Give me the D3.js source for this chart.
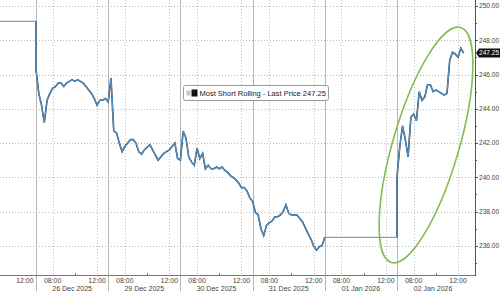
<!DOCTYPE html>
<html>
<head>
<meta charset="utf-8">
<script src="https://cdn.jsdelivr.net/npm/d3@7"></script>
<style>
  html, body { margin: 0; padding: 0; background: #fff; }
  svg { display: block; font-family: "Liberation Sans", Arial, sans-serif; }
</style>
</head>
<body>
<div id="chart"></div>
<script>
// session 06:30-13:00 (6.5h); values sampled every 15 min, open to close
const dayLabels = ["24 Dec 2025", "26 Dec 2025", "29 Dec 2025", "30 Dec 2025", "31 Dec 2025", "01 Jan 2026", "02 Jan 2026"];
const tickHours = [8, 12];
const yTicks = [236, 238, 240, 242, 244, 246, 248, 250];

const dec24Close = 249.1;
const dec26 = [246.3, 244.9, 244.2, 243.2, 244.5, 244.9, 245.2, 245.3, 245.5, 245.5, 245.3, 245.5, 245.6, 245.7, 245.6, 245.7, 245.6, 245.5, 245.3, 245.1, 244.9, 244.6, 244.2, 244.5, 244.5, 244.6, 244.4];
const dec29 = [244.4, 245.8, 242.7, 242.6, 242.0, 241.5, 241.8, 242.0, 242.2, 242.2, 242.0, 241.5, 241.35, 241.6, 241.75, 241.9, 241.6, 241.3, 241.0, 241.2, 241.4, 241.5, 241.6, 241.8, 242.0, 241.1, 241.0];
const dec30 = [241.0, 242.7, 242.3, 241.2, 240.9, 240.7, 241.7, 241.1, 241.4, 240.5, 240.7, 240.5, 240.5, 240.6, 240.5, 240.6, 240.4, 240.3, 240.1, 240.0, 239.85, 239.67, 239.4, 239.4, 239.2, 238.8, 238.6];
const dec31 = [238.6, 237.95, 237.8, 237.0, 236.6, 237.2, 237.35, 237.45, 237.7, 237.7, 237.8, 238.0, 238.4, 237.9, 237.8, 237.8, 237.8, 237.6, 237.4, 237.05, 236.7, 236.4, 236.0, 235.75, 235.95, 236.0, 236.5];
const jan02 = [240.0, 241.8, 243.0, 242.2, 241.2, 243.5, 243.7, 243.3, 245.0, 244.5, 244.7, 245.4, 245.4, 245.0, 245.1, 245.0, 244.9, 244.8, 244.9, 246.85, 247.3, 247.2, 247.0, 247.55, 247.25];
const lastPrice = 247.25;

const W = 500, H = 291;
const plotBottom = 275, plotRight = 475;
const sessionLen = 6.5;

const x = d3.scaleLinear().domain([0, 7 * sessionLen]).range([-36.2, 469.2]);
const y = d3.scaleLinear().domain([234.3, 250.35]).range([plotBottom, 0]);

// time in "session hours": day index * 6.5 + hours since 06:30
const t = (day, hour) => day * sessionLen + (hour - 6.5);
const toPoints = (day, vals) => vals.map((v, i) => ({ t: day * sessionLen + i * 0.25, v }));

const svg = d3.select("#chart").append("svg")
  .attr("width", W).attr("height", H);

// grid
const grid = svg.append("g");
grid.selectAll(".hg").data(yTicks).join("line")
  .attr("x1", 0).attr("x2", plotRight)
  .attr("y1", d => Math.round(y(d)) + 0.5).attr("y2", d => Math.round(y(d)) + 0.5)
  .attr("stroke", "#bdbdbd").attr("stroke-dasharray", "1,2");

const xTicks = [];
dayLabels.forEach((lab, k) => {
  tickHours.forEach(h => { if (k > 0 || h === 12) xTicks.push({ day: k, hour: h }); });
});
grid.selectAll(".vg").data(xTicks.filter(d => d.day > 0)).join("line")
  .attr("x1", d => Math.round(x(t(d.day, d.hour))) + 0.5)
  .attr("x2", d => Math.round(x(t(d.day, d.hour))) + 0.5)
  .attr("y1", 0).attr("y2", plotBottom)
  .attr("stroke", "#bdbdbd").attr("stroke-dasharray", "1,2");

// day separators
grid.selectAll(".sep").data(d3.range(1, dayLabels.length)).join("line")
  .attr("x1", k => Math.round(x(k * sessionLen)) + 0.5)
  .attr("x2", k => Math.round(x(k * sessionLen)) + 0.5)
  .attr("y1", 0).attr("y2", H)
  .attr("stroke", "#b5b5b5").attr("stroke-width", 1);

// flat (no trading) segments
const line = d3.line().x(d => x(d.t)).y(d => y(d.v));
const flats = [
  [{ t: 0, v: dec24Close }, { t: sessionLen, v: dec24Close }],
  [{ t: 5 * sessionLen, v: dec31[dec31.length - 1] }, { t: 6 * sessionLen, v: dec31[dec31.length - 1] }]
];
svg.selectAll(".flat").data(flats).join("path")
  .attr("d", line).attr("fill", "none")
  .attr("stroke", "#9a9a9a").attr("stroke-width", 1.3);

// traded series
const seg1 = [{ t: sessionLen, v: dec24Close }]
  .concat(toPoints(1, dec26), toPoints(2, dec29), toPoints(3, dec30), toPoints(4, dec31));
const seg2 = [{ t: 6 * sessionLen, v: dec31[dec31.length - 1] }].concat(toPoints(6, jan02));

[seg1, seg2].forEach(seg => {
  svg.append("path").datum(seg).attr("d", line).attr("fill", "none")
    .attr("stroke", "#35414b").attr("stroke-width", 1.6).attr("stroke-linejoin", "miter");
  svg.append("path").datum(seg).attr("d", line).attr("fill", "none")
    .attr("stroke", "#4f93cc").attr("stroke-width", 1.1).attr("stroke-linejoin", "miter");
});

// x axis
svg.append("line")
  .attr("x1", 0).attr("x2", plotRight)
  .attr("y1", plotBottom + 0.5).attr("y2", plotBottom + 0.5)
  .attr("stroke", "#777");

svg.selectAll(".minor").data(d3.range(1, dayLabels.length)).join("line")
  .attr("x1", k => Math.round(x(t(k, 10))) + 0.5)
  .attr("x2", k => Math.round(x(t(k, 10))) + 0.5)
  .attr("y1", plotBottom - 2).attr("y2", plotBottom + 1)
  .attr("stroke", "#777");

svg.selectAll(".tl").data(xTicks).join("text")
  .attr("x", d => x(t(d.day, d.hour)))
  .attr("y", 283)
  .attr("text-anchor", "middle")
  .style("font-size", "7px").attr("fill", "#444")
  .text(d => d3.format("02")(d.hour) + ":00");

svg.selectAll(".dl").data(dayLabels.slice(1)).join("text")
  .attr("x", (d, i) => x((i + 1.5) * sessionLen))
  .attr("y", 290.5)
  .attr("text-anchor", "middle")
  .style("font-size", "7px").attr("fill", "#444")
  .text(d => d);

// y axis
const yAxis = svg.append("g");
yAxis.append("line")
  .attr("x1", plotRight + 0.5).attr("x2", plotRight + 0.5)
  .attr("y1", 0).attr("y2", plotBottom + 1)
  .attr("stroke", "#555");
yAxis.selectAll(".ymin").data(d3.range(235, 251)).join("line")
  .attr("x1", plotRight).attr("x2", d => plotRight + (d % 2 === 0 ? 3 : 2))
  .attr("y1", d => Math.round(y(d)) + 0.5).attr("y2", d => Math.round(y(d)) + 0.5)
  .attr("stroke", "#555");
yAxis.selectAll(".yl").data(yTicks).join("text")
  .attr("x", 479).attr("y", d => y(d))
  .attr("dy", "0.35em")
  .style("font-size", "6.6px").attr("fill", "#444")
  .text(d => d3.format(".2f")(d));

// last price tag
const ly = y(lastPrice);
svg.append("path")
  .attr("d", `M${plotRight + 1},${ly} L${plotRight + 4},${ly - 4.5} L500,${ly - 4.5} L500,${ly + 4.5} L${plotRight + 4},${ly + 4.5} Z`)
  .attr("fill", "#111");
svg.append("text")
  .attr("x", 479).attr("y", ly).attr("dy", "0.35em")
  .style("font-size", "6.6px").attr("fill", "#fff")
  .text(d3.format(".2f")(lastPrice));

// legend
const lg = svg.append("g").attr("transform", "translate(183.5,85.5)");
lg.append("rect").attr("width", 145).attr("height", 15).attr("rx", 2)
  .attr("fill", "#fff").attr("stroke", "#9a9a9a");
lg.append("rect").attr("x", 3).attr("y", 5).attr("width", 4).attr("height", 5).attr("fill", "#c8c8c8");
lg.append("rect").attr("x", 8).attr("y", 4).attr("width", 6).attr("height", 7).attr("fill", "#111");
lg.append("text").attr("x", 16).attr("y", 7.5).attr("dy", "0.35em")
  .style("font-size", "7.5px").attr("fill", "#222")
  .text("Most Short Rolling - Last Price " + d3.format(".2f")(lastPrice));

// highlight ellipse
svg.append("ellipse")
  .attr("cx", 0).attr("cy", 0).attr("rx", 33).attr("ry", 122.5)
  .attr("transform", "translate(426,145) rotate(16.4)")
  .attr("fill", "none").attr("stroke", "#84bd55").attr("stroke-width", 1.6);
</script>
</body>
</html>
